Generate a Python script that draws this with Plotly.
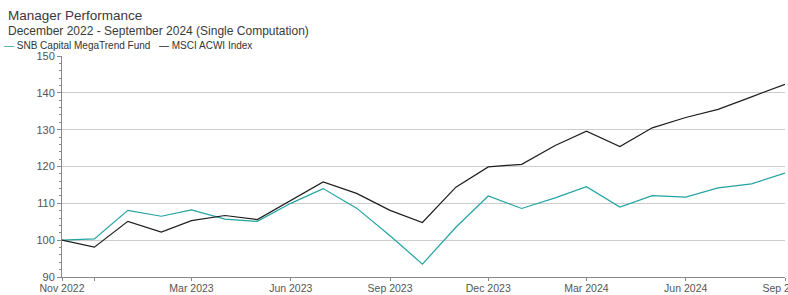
import plotly.graph_objects as go

months = ["2022-11-01", "2022-12-01", "2023-01-01", "2023-02-01", "2023-03-01", "2023-04-01",
          "2023-05-01", "2023-06-01", "2023-07-01", "2023-08-01", "2023-09-01", "2023-10-01",
          "2023-11-01", "2023-12-01", "2024-01-01", "2024-02-01", "2024-03-01", "2024-04-01",
          "2024-05-01", "2024-06-01", "2024-07-01", "2024-08-01", "2024-09-01"]

fund = [100.0, 100.35, 108.1, 106.5, 108.2, 105.7, 105.1, 110.0, 114.0, 108.7, 101.2, 93.5,
        103.5, 112.0, 108.6, 111.5, 114.5, 109.0, 112.1, 111.7, 114.2, 115.3, 118.2]

index = [100.0, 98.1, 105.1, 102.2, 105.3, 106.7, 105.6, 110.7, 115.8, 112.7, 108.1, 104.8,
         114.4, 119.9, 120.6, 125.7, 129.6, 125.4, 130.5, 133.3, 135.5, 138.9, 142.3]

series_names = ["SNB Capital MegaTrend Fund", "MSCI ACWI Index"]

tick_dates = ["2022-11-01", "2022-12-01", "2023-03-01", "2023-06-01", "2023-09-01",
              "2023-12-01", "2024-03-01", "2024-06-01", "2024-09-01"]
tick_labels = ["Nov 2022", "", "Mar 2023", "Jun 2023", "Sep 2023",
               "Dec 2023", "Mar 2024", "Jun 2024", "Sep 2024"]

title = "Manager Performance"
subtitle = "December 2022 - September 2024 (Single Computation)"

TEAL = "#22a3a3"
BLACK = "#1e1e1e"
FONT = "Liberation Sans, Arial, sans-serif"

fig = go.Figure()
fig.add_trace(go.Scatter(x=months, y=fund, mode="lines", name=series_names[0],
                         line=dict(color=TEAL, width=1.2)))
fig.add_trace(go.Scatter(x=months, y=index, mode="lines", name=series_names[1],
                         line=dict(color=BLACK, width=1.2)))

L, R, T, B = 62, 3, 56, 18
W, H = 788, 295
pw, ph = W - L - R, H - T - B

def px(xp):
    return (xp - L) / pw

def py(yp):
    return (H - B - yp) / ph

annotations = [
    dict(text=title, x=px(6), y=py(16), xref="paper", yref="paper", xanchor="left",
         yanchor="middle", showarrow=False, font=dict(size=13.5, color="#3a3a3a", family=FONT)),
    dict(text=subtitle, x=px(6), y=py(31), xref="paper", yref="paper", xanchor="left",
         yanchor="middle", showarrow=False, font=dict(size=12, color="#3a3a3a", family=FONT)),
    dict(text=f"<span style='color:{TEAL}'>—</span> {series_names[0]}", x=px(2), y=py(46),
         xref="paper", yref="paper", xanchor="left", yanchor="middle", showarrow=False,
         font=dict(size=10, color="#333333", family=FONT)),
    dict(text=f"<span style='color:{BLACK}'>—</span> {series_names[1]}", x=px(157), y=py(46),
         xref="paper", yref="paper", xanchor="left", yanchor="middle", showarrow=False,
         font=dict(size=10, color="#333333", family=FONT)),
]

fig.update_layout(
    width=W, height=H,
    margin=dict(l=L, r=R, t=T, b=B, autoexpand=False),
    paper_bgcolor="white", plot_bgcolor="white",
    showlegend=False,
    font=dict(family=FONT, size=11, color="#555555"),
    annotations=annotations,
)

fig.update_xaxes(
    type="date",
    range=["2022-11-01", "2024-09-01"],
    tickmode="array", tickvals=tick_dates, ticktext=tick_labels,
    ticks="outside", ticklen=3, tickcolor="#888888",
    showline=True, linecolor="#888888", linewidth=1,
    showgrid=False, zeroline=False,
    tickfont=dict(size=10.5, color="#555555"),
    ticklabelstandoff=-2,
    ticklabeloverflow="allow", automargin=False,
)

fig.update_yaxes(
    range=[90, 150],
    tickmode="linear", tick0=90, dtick=10,
    ticks="outside", ticklen=4, tickcolor="#888888",
    minor=dict(dtick=2, ticks="outside", ticklen=2, tickcolor="#888888", showgrid=False),
    showline=True, linecolor="#888888", linewidth=1,
    showgrid=True, gridcolor="#cccccc", gridwidth=1,
    zeroline=False,
    tickfont=dict(size=11, color="#555555"),
    automargin=False,
)

fig.write_html("out.html",
               config={"displayModeBar": False},
               post_script="document.body.style.margin='0';document.body.style.overflow='hidden';")
